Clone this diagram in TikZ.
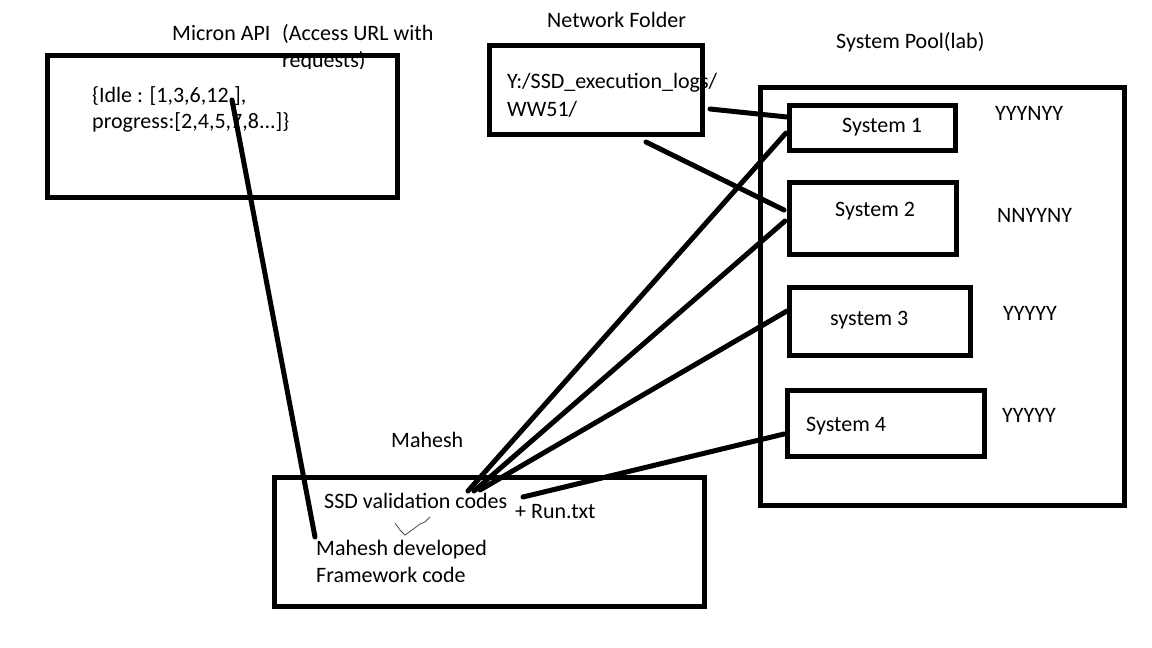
\documentclass[tikz,border=0pt]{standalone}
\usepackage{fontspec}
\setmainfont{Carlito}
\begin{document}
\begin{tikzpicture}[x=1pt,y=-1pt,
  box/.style={draw=black,line width=5pt,anchor=north west,inner sep=0pt,outer sep=0pt},
  txt/.style={anchor=base west,inner sep=0pt,font=\fontsize{22}{27}\selectfont},
  conn/.style={line width=5pt,line cap=round}]
\useasboundingbox[fill=white] (0,0) rectangle (1152,648);
% titles / free text
\node[txt] (apititle) at (172,40) {Micron API};
\begin{scope}
\clip (270,18) rectangle (450,68);
\node[txt,align=left,anchor=north west] (apinote) at (282,24) {(Access URL with\\requests)};
\end{scope}
\node[txt] (nftitle) at (547,27) {Network Folder};
\node[txt] (pooltitle) at (836,48) {System Pool(lab)};
\node[txt] (mtitle) at (391,447) {Mahesh};
% boxes
\node[box,minimum width=350pt,minimum height=142pt] (api) at (47.5,55.5) {};
\node[box,minimum width=213pt,minimum height=89pt] (nf) at (489.5,45.5) {};
\node[box,minimum width=364pt,minimum height=418pt] (pool) at (760.5,87.5) {};
\node[box,minimum width=166pt,minimum height=45pt] (s1) at (789.5,105.5) {};
\node[box,minimum width=167pt,minimum height=72pt] (s2) at (789.5,182.5) {};
\node[box,minimum width=181pt,minimum height=68pt] (s3) at (789.5,287.5) {};
\node[box,minimum width=197pt,minimum height=66pt] (s4) at (787.5,390.5) {};
\node[box,minimum width=430pt,minimum height=129pt] (mh) at (274.5,477.5) {};
% box texts
\node[txt] (idle) at (92,102) {\{Idle : [1,3,6,12,],};
\node[txt] (prog) at (92,128) {progress:[2,4,5,7,8...]\}};
\node[txt] (path1) at (507,88) {Y:/SSD\_execution\_logs/};
\node[txt] (path2) at (507,116) {WW51/};
\node[txt] (s1t) at (842,132) {System 1};
\node[txt] (s2t) at (835,216) {System 2};
\node[txt] (s3t) at (830,325) {system 3};
\node[txt] (s4t) at (806,431) {System 4};
\node[txt] (y1) at (995,120) {YYYNYY};
\node[txt] (y2) at (997,222) {NNYYNY};
\node[txt] (y3) at (1003,320) {YYYYY};
\node[txt] (y4) at (1002,422) {YYYYY};
\node[txt] (ssd) at (324,508) {SSD validation codes};
\node[txt] (run) at (515,518) {+ Run.txt};
\node[txt] (dev1) at (316,555) {Mahesh developed};
\node[txt] (dev2) at (316,582) {Framework code};
% connector end points
\coordinate (apiP) at (232,100);
\coordinate (mhA) at (315,537);
\coordinate (nfR) at (710,109);
\coordinate (nfB) at (646,142);
\coordinate (s1a) at (787,117);
\coordinate (s1b) at (786,133);
\coordinate (s2a) at (784,210);
\coordinate (s2b) at (785,221);
\coordinate (s3a) at (787,311);
\coordinate (s4a) at (784,434);
\coordinate (mh1) at (468,491);
\coordinate (mh2) at (474,491);
\coordinate (mh3) at (480,490);
\coordinate (mh4) at (523,497);
% connectors
\draw[conn] (apiP) -- (mhA);
\draw[conn] (nfR) -- (s1a);
\draw[conn] (nfB) -- (s2a);
\draw[conn] (mh1) -- (s1b);
\draw[conn] (mh2) -- (s2b);
\draw[conn] (mh3) -- (s3a);
\draw[conn] (mh4) -- (s4a);
% small tick mark
\draw[line width=0.8pt,black!70] (395,523) -- (400,530) -- (405,535) -- (412,530) -- (420,524) -- (425,522) -- (430,517);
\end{tikzpicture}
\end{document}
